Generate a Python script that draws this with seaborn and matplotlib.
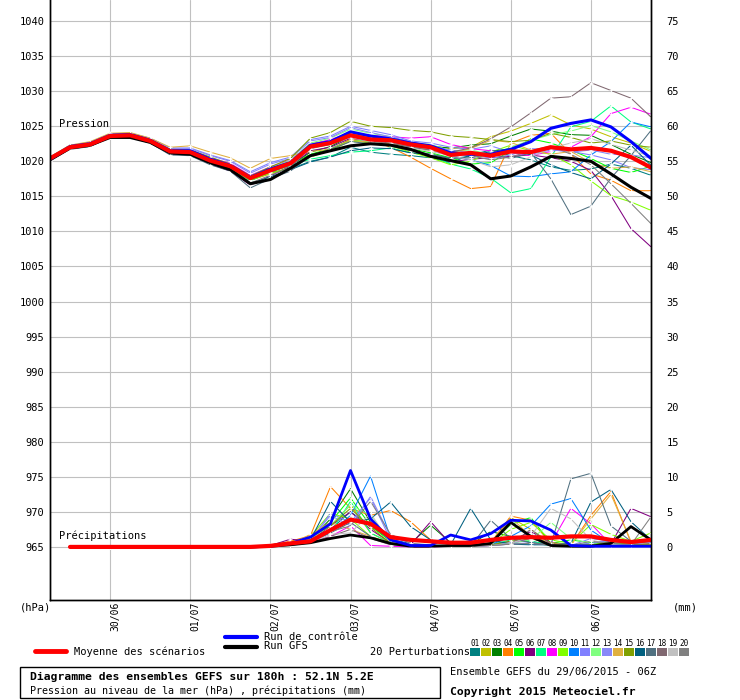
import pandas as pd
import seaborn as sns
import matplotlib.pyplot as plt
from matplotlib.transforms import ScaledTranslation
from matplotlib.patches import Rectangle
from matplotlib.lines import Line2D

# echeances (h depuis 29/06 06Z)
hours = [0, 6, 12, 18, 24, 30, 36, 42, 48, 54, 60, 66, 72, 78, 84, 90, 96, 102,
         108, 114, 120, 126, 132, 138, 144, 150, 156, 162, 168, 174, 180]
rain_hours = hours[1:]
date_hours = [18, 42, 66, 90, 114, 138, 162]
date_labels = ['30/06', '01/07', '02/07', '03/07', '04/07', '05/07', '06/07']

# pression (hPa)
mean_pres = [1020.4, 1022.0, 1022.4, 1023.6, 1023.7, 1022.9, 1021.4, 1021.3, 1020.1, 1019.3, 1017.6,
             1018.7, 1019.7, 1022.1, 1022.6, 1023.7, 1023.1, 1023.0, 1022.4, 1022.0, 1020.9,
             1021.2, 1020.8, 1021.4, 1021.3, 1022.0, 1021.7, 1021.9, 1021.5, 1020.6, 1019.1]
ctrl_pres = [1020.3, 1022.1, 1022.5, 1023.7, 1023.8, 1023.0, 1021.5, 1021.5, 1020.3, 1019.4, 1017.7,
             1018.9, 1019.8, 1022.3, 1022.8, 1024.2, 1023.6, 1023.2, 1022.6, 1022.2, 1021.2,
             1021.0, 1021.0, 1021.7, 1022.8, 1024.7, 1025.4, 1025.9, 1024.9, 1022.8, 1020.4]
gfs_pres = [1020.2, 1021.9, 1022.3, 1023.4, 1023.4, 1022.7, 1021.2, 1021.0, 1019.8, 1018.8, 1016.8,
            1017.4, 1019.0, 1020.8, 1021.5, 1022.2, 1022.5, 1022.3, 1021.7, 1020.7, 1020.1,
            1019.5, 1017.5, 1017.9, 1019.2, 1020.7, 1020.4, 1020.0, 1018.2, 1016.3, 1014.7]

p01 = [1020.2, 1021.8, 1022.1, 1023.5, 1023.6, 1022.8, 1021.2, 1021.0, 1019.9, 1019.0, 1017.3, 1018.4, 1018.9, 1020.0, 1020.6, 1022.0,
       1021.3, 1021.0, 1020.8, 1020.5, 1019.8, 1020.9, 1021.6, 1020.8, 1020.2, 1019.2, 1018.7, 1018.9, 1019.6, 1019.0, 1018.0]
p02 = [1020.4, 1022.1, 1022.5, 1023.7, 1023.8, 1023.0, 1021.6, 1021.5, 1020.4, 1019.6, 1017.9, 1019.0, 1020.0, 1022.5, 1023.0, 1024.0,
       1023.4, 1023.2, 1022.5, 1022.2, 1021.8, 1022.0, 1023.5, 1024.3, 1025.4, 1026.6, 1025.2, 1024.6, 1023.5, 1022.6, 1021.4]
p03 = [1020.3, 1022.0, 1022.3, 1023.6, 1023.7, 1022.9, 1021.3, 1021.2, 1020.0, 1019.1, 1017.4, 1018.5, 1019.4, 1021.3, 1022.1, 1023.6,
       1023.3, 1022.9, 1022.7, 1022.1, 1021.9, 1022.3, 1022.5, 1023.6, 1024.6, 1024.3, 1023.8, 1023.7, 1022.4, 1021.0, 1019.8]
p04 = [1020.3, 1021.9, 1022.3, 1023.6, 1023.6, 1022.7, 1021.2, 1021.1, 1019.9, 1019.1, 1017.3, 1018.2, 1019.2, 1020.6, 1021.6, 1023.2,
       1023.0, 1022.0, 1020.6, 1019.0, 1017.5, 1016.1, 1016.4, 1022.6, 1023.7, 1024.0, 1021.0, 1018.2, 1017.3, 1015.8, 1015.8]
p05 = [1020.5, 1022.2, 1022.5, 1023.8, 1023.8, 1023.0, 1021.4, 1021.3, 1020.1, 1019.2, 1017.5, 1018.6, 1019.5, 1021.0, 1021.8, 1023.0,
       1022.8, 1022.4, 1021.8, 1021.2, 1020.5, 1019.6, 1019.8, 1021.5, 1023.2, 1022.6, 1021.6, 1020.4, 1019.0, 1018.4, 1019.3]
p06 = [1020.1, 1021.8, 1022.2, 1023.4, 1023.5, 1022.6, 1021.0, 1020.9, 1019.6, 1018.6, 1016.6, 1017.9, 1019.3, 1021.5, 1022.0, 1023.3,
       1022.9, 1022.4, 1021.6, 1020.8, 1019.9, 1020.3, 1020.5, 1020.7, 1020.9, 1020.5, 1020.0, 1018.7, 1015.1, 1010.4, 1007.8]
p07 = [1020.6, 1022.3, 1022.3, 1023.5, 1023.7, 1022.9, 1021.4, 1021.2, 1020.0, 1019.1, 1017.2, 1018.5, 1019.4, 1020.3, 1020.8, 1021.3,
       1021.5, 1021.9, 1021.2, 1020.8, 1019.6, 1018.9, 1017.6, 1015.5, 1016.1, 1020.6, 1024.9, 1025.7, 1027.9, 1025.6, 1024.6]
p08 = [1020.4, 1022.1, 1022.6, 1023.8, 1023.9, 1023.1, 1021.6, 1021.6, 1020.5, 1019.7, 1018.0, 1019.2, 1020.2, 1022.4, 1023.1, 1024.1,
       1023.7, 1023.5, 1023.3, 1023.5, 1022.4, 1021.8, 1021.5, 1021.2, 1020.8, 1021.4, 1022.0, 1023.5, 1026.8, 1027.7, 1026.7]
p09 = [1020.3, 1022.0, 1022.4, 1023.6, 1023.7, 1022.8, 1021.3, 1021.1, 1019.9, 1019.0, 1017.3, 1018.3, 1019.0, 1020.7, 1021.5, 1022.9,
       1022.6, 1022.2, 1021.3, 1020.5, 1019.5, 1020.0, 1021.3, 1022.3, 1021.5, 1021.0, 1019.5, 1017.2, 1015.1, 1014.2, 1013.0]
p10 = [1020.4, 1022.0, 1022.4, 1023.7, 1023.8, 1022.9, 1021.5, 1021.4, 1020.2, 1019.3, 1017.7, 1018.8, 1019.8, 1022.2, 1022.7, 1023.9,
       1023.2, 1022.8, 1022.0, 1021.6, 1020.8, 1020.2, 1019.4, 1017.9, 1017.8, 1018.2, 1018.5, 1020.9, 1022.8, 1025.6, 1024.9]
p11 = [1020.6, 1022.3, 1022.7, 1023.9, 1024.0, 1023.3, 1021.9, 1021.9, 1020.9, 1020.1, 1018.5, 1019.8, 1020.6, 1023.1, 1023.6, 1025.0,
       1024.4, 1023.8, 1022.9, 1022.6, 1022.0, 1021.7, 1022.2, 1021.3, 1021.0, 1021.6, 1021.4, 1020.9, 1020.2, 1019.1, 1018.8]
p12 = [1020.5, 1022.2, 1022.6, 1023.8, 1023.8, 1023.0, 1021.5, 1021.4, 1020.3, 1019.5, 1017.9, 1019.1, 1020.1, 1022.6, 1023.3, 1024.6,
       1024.0, 1023.5, 1022.6, 1022.4, 1021.5, 1021.6, 1021.0, 1022.0, 1023.0, 1023.8, 1024.3, 1025.1, 1024.2, 1022.9, 1021.6]
p13 = [1020.5, 1022.2, 1022.7, 1023.9, 1024.0, 1023.2, 1021.8, 1021.8, 1020.8, 1020.0, 1018.3, 1019.6, 1020.4, 1022.9, 1023.4, 1024.8,
       1024.1, 1023.5, 1022.8, 1022.2, 1021.6, 1021.2, 1020.4, 1020.9, 1021.8, 1021.7, 1021.3, 1021.6, 1021.0, 1020.9, 1020.5]
p14 = [1020.6, 1022.3, 1022.8, 1024.0, 1024.1, 1023.3, 1022.0, 1022.2, 1021.3, 1020.5, 1019.0, 1020.4, 1020.8, 1021.4, 1021.7, 1023.0,
       1022.7, 1022.5, 1022.2, 1021.5, 1021.2, 1021.8, 1023.0, 1022.7, 1021.6, 1021.0, 1021.4, 1019.8, 1019.0, 1019.2, 1018.5]
p15 = [1020.5, 1022.2, 1022.5, 1023.8, 1023.9, 1023.1, 1021.7, 1021.6, 1020.6, 1019.6, 1017.9, 1019.2, 1020.4, 1023.3, 1024.1, 1025.7,
       1025.0, 1024.8, 1024.4, 1024.2, 1023.6, 1023.4, 1023.1, 1022.8, 1023.0, 1024.0, 1023.4, 1022.6, 1022.9, 1022.3, 1022.0]
p16 = [1020.2, 1021.8, 1022.2, 1023.5, 1023.5, 1022.7, 1021.1, 1020.9, 1019.7, 1018.8, 1016.8, 1017.8, 1018.8, 1019.9, 1020.6, 1021.5,
       1021.9, 1021.8, 1021.2, 1021.0, 1020.4, 1020.7, 1021.4, 1021.8, 1020.9, 1019.5, 1018.4, 1017.5, 1019.6, 1022.3, 1019.4]
p17 = [1020.1, 1021.7, 1022.1, 1023.4, 1023.4, 1022.6, 1020.9, 1020.8, 1019.5, 1018.6, 1016.2, 1017.5, 1018.6, 1020.8, 1021.7, 1022.8,
       1022.5, 1022.2, 1021.5, 1021.0, 1020.4, 1020.5, 1021.0, 1020.4, 1021.2, 1017.5, 1012.4, 1013.6, 1017.6, 1020.8, 1024.4]
p18 = [1020.3, 1022.0, 1022.4, 1023.6, 1023.6, 1022.8, 1021.3, 1021.2, 1020.0, 1019.1, 1017.4, 1018.5, 1019.5, 1021.8, 1022.4, 1023.5,
       1022.9, 1022.6, 1022.0, 1021.6, 1021.3, 1021.9, 1023.2, 1024.9, 1026.9, 1029.0, 1029.2, 1031.2, 1030.1, 1029.0, 1026.3]
p19 = [1020.4, 1022.1, 1022.4, 1023.7, 1023.7, 1022.9, 1021.4, 1021.3, 1020.1, 1019.3, 1017.6, 1018.7, 1019.8, 1022.0, 1022.5, 1023.4,
       1022.8, 1022.3, 1021.9, 1021.4, 1020.8, 1020.2, 1019.2, 1019.5, 1020.6, 1021.9, 1022.6, 1023.2, 1022.4, 1021.6, 1020.7]
p20 = [1020.2, 1021.9, 1022.3, 1023.5, 1023.6, 1022.8, 1021.2, 1021.1, 1019.8, 1018.9, 1016.9, 1018.0, 1019.2, 1021.9, 1022.5, 1023.8,
       1023.2, 1022.9, 1022.1, 1021.8, 1021.1, 1020.8, 1020.2, 1020.6, 1021.5, 1022.2, 1021.0, 1019.5, 1016.8, 1014.0, 1011.1]
pert_pres = [p01, p02, p03, p04, p05, p06, p07, p08, p09, p10,
             p11, p12, p13, p14, p15, p16, p17, p18, p19, p20]

# precipitations (mm / 6h), de 6h a 180h
mean_rain = [0, 0, 0, 0, 0, 0, 0, 0, 0, 0, 0.15, 0.5, 0.8, 2.4, 3.9, 3.3, 1.4, 1.0, 0.8, 0.6,
             0.6, 1.0, 1.3, 1.4, 1.3, 1.5, 1.5, 1.0, 0.7, 1.0]
ctrl_rain = [0, 0, 0, 0, 0, 0, 0, 0, 0, 0, 0.1, 0.5, 1.4, 3.3, 10.9, 4.0, 1.0, 0.2, 0.2, 1.7,
             1.0, 1.9, 3.8, 3.7, 2.4, 0.2, 0.1, 0.1, 0.1, 0.1]
gfs_rain = [0, 0, 0, 0, 0, 0, 0, 0, 0, 0, 0.1, 0.3, 0.6, 1.2, 1.7, 1.3, 0.5, 0.1, 0.1, 0.2,
            0.2, 0.5, 3.5, 1.5, 0.2, 0.1, 0.1, 0.5, 2.9, 1.0]

r01 = [0, 0, 0, 0, 0, 0, 0, 0, 0, 0, 0.2, 0.5, 1.0, 2.5, 5.0, 3.0, 1.0, 0.4, 0.2, 0.1, 0.3, 0.5, 1.5, 0.8, 0.3, 0.2, 0.5, 1.0, 0.5, 0.3]
r02 = [0, 0, 0, 0, 0, 0, 0, 0, 0, 0, 0.1, 0.4, 1.2, 3.0, 6.0, 2.0, 0.6, 0.2, 0.1, 0.1, 0.2, 0.3, 4.2, 2.5, 0.5, 0.2, 0.1, 0.3, 0.5, 0.4]
r03 = [0, 0, 0, 0, 0, 0, 0, 0, 0, 0, 0.2, 0.6, 1.0, 4.0, 8.3, 3.5, 1.0, 0.5, 3.1, 0.6, 0.3, 2.2, 1.5, 0.6, 0.2, 0.1, 0.3, 0.8, 0.5, 1.2]
r04 = [0, 0, 0, 0, 0, 0, 0, 0, 0, 0, 0.3, 0.8, 1.6, 8.6, 5.5, 4.5, 5.2, 3.6, 1.0, 0.3, 0.2, 0.6, 4.4, 3.8, 0.5, 0.2, 4.5, 7.9, 0.6, 0.4]
r05 = [0, 0, 0, 0, 0, 0, 0, 0, 0, 0, 0.1, 0.5, 1.3, 3.5, 7.0, 3.0, 0.8, 0.3, 0.2, 0.2, 0.1, 0.5, 3.2, 4.2, 0.5, 1.0, 0.6, 0.3, 0.2, 1.0]
r06 = [0, 0, 0, 0, 0, 0, 0, 0, 0, 0, 0.2, 1.1, 0.8, 3.0, 5.0, 2.5, 0.6, 0.3, 3.6, 0.4, 0.2, 0.4, 0.8, 2.2, 0.6, 0.3, 0.2, 0.4, 5.5, 4.3]
r07 = [0, 0, 0, 0, 0, 0, 0, 0, 0, 0, 0.1, 0.4, 0.9, 2.0, 6.5, 2.0, 0.5, 0.2, 0.1, 0.1, 0.1, 0.3, 1.0, 0.8, 0.3, 0.2, 0.2, 0.5, 0.3, 0.2]
r08 = [0, 0, 0, 0, 0, 0, 0, 0, 0, 0, 0.1, 0.3, 0.6, 1.5, 3.0, 0.2, 0.1, 0.0, 0.0, 0.1, 0.1, 0.2, 0.5, 1.2, 0.5, 5.5, 3.3, 0.3, 0.1, 0.1]
r09 = [0, 0, 0, 0, 0, 0, 0, 0, 0, 0, 0.1, 0.4, 1.5, 4.8, 4.0, 1.5, 0.5, 0.2, 0.1, 0.2, 0.2, 0.4, 2.5, 3.5, 1.0, 0.5, 3.2, 1.8, 0.8, 2.0]
r10 = [0, 0, 0, 0, 0, 0, 0, 0, 0, 0, 0.1, 0.3, 0.7, 2.0, 4.5, 10.1, 1.2, 0.3, 0.1, 0.1, 0.2, 0.3, 1.5, 3.0, 6.1, 6.9, 2.4, 0.5, 0.2, 0.1]
r11 = [0, 0, 0, 0, 0, 0, 0, 0, 0, 0, 0.2, 0.4, 0.9, 4.8, 3.5, 7.0, 1.0, 0.3, 0.1, 0.1, 0.1, 0.2, 0.4, 0.6, 0.3, 0.2, 1.2, 0.8, 0.3, 0.2]
r12 = [0, 0, 0, 0, 0, 0, 0, 0, 0, 0, 0.1, 0.5, 1.2, 3.0, 6.0, 4.5, 0.7, 0.4, 0.2, 0.1, 0.2, 0.3, 0.5, 1.0, 3.5, 1.2, 0.5, 0.3, 0.2, 0.1]
r13 = [0, 0, 0, 0, 0, 0, 0, 0, 0, 0, 0.2, 0.6, 1.0, 4.5, 3.0, 7.2, 1.5, 0.5, 0.2, 0.2, 0.2, 0.3, 0.6, 0.4, 0.3, 0.2, 0.5, 1.0, 0.4, 0.6]
r14 = [0, 0, 0, 0, 0, 0, 0, 0, 0, 0, 0.1, 0.3, 1.8, 3.5, 2.5, 1.5, 0.6, 0.3, 0.1, 0.1, 0.2, 0.5, 4.2, 1.5, 0.6, 0.3, 4.0, 7.5, 0.8, 0.4]
r15 = [0, 0, 0, 0, 0, 0, 0, 0, 0, 0, 0.1, 0.4, 1.4, 3.0, 5.5, 2.8, 0.5, 0.2, 0.1, 0.1, 0.1, 0.3, 0.8, 1.2, 0.4, 0.2, 0.3, 0.6, 0.4, 0.3]
r16 = [0, 0, 0, 0, 0, 0, 0, 0, 0, 0, 0.2, 0.5, 1.0, 6.5, 3.5, 4.0, 6.4, 2.9, 1.0, 0.3, 5.5, 1.0, 0.4, 0.3, 0.3, 0.5, 6.4, 8.2, 3.6, 1.0]
r17 = [0, 0, 0, 0, 0, 0, 0, 0, 0, 0, 0.1, 0.4, 0.8, 2.0, 3.5, 1.5, 0.4, 0.2, 0.1, 0.1, 0.1, 3.8, 1.2, 0.6, 0.3, 9.7, 10.5, 3.0, 0.8, 0.5]
r18 = [0, 0, 0, 0, 0, 0, 0, 0, 0, 0, 0.1, 0.3, 0.6, 1.5, 2.5, 1.2, 0.3, 0.1, 0.1, 0.1, 0.1, 0.2, 0.4, 2.5, 0.4, 0.2, 0.1, 0.2, 0.3, 0.2]
r19 = [0, 0, 0, 0, 0, 0, 0, 0, 0, 0, 0.1, 0.2, 0.6, 1.8, 2.0, 4.8, 0.5, 0.2, 0.1, 0.1, 0.1, 0.2, 0.5, 1.5, 5.5, 4.0, 1.0, 0.3, 0.2, 0.1]
r20 = [0, 0, 0, 0, 0, 0, 0, 0, 0, 0, 0.1, 0.4, 0.9, 2.2, 3.0, 6.5, 1.8, 0.5, 0.3, 0.1, 0.1, 0.2, 0.4, 0.5, 0.3, 0.2, 0.8, 0.5, 0.3, 4.3]
pert_rain = [r01, r02, r03, r04, r05, r06, r07, r08, r09, r10,
             r11, r12, r13, r14, r15, r16, r17, r18, r19, r20]

pert_names = ['%02d' % i for i in range(1, 21)]
pert_colors = ['#008080', '#c0c000', '#008000', '#ff8000', '#00ff00', '#800080', '#00ff80',
               '#ff00ff', '#80ff00', '#0080ff', '#8080ff', '#80ff80', '#8888f8', '#e0b040',
               '#80a000', '#006080', '#507080', '#806870', '#c0c0c0', '#808080']

W, H = 740, 700


def fx(x):
    return x / W


def fy(y):
    return 1 - y / H


sns.set_style('white')
plt.rcParams['font.family'] = ['DejaVu Sans Mono']
plt.rcParams['text.color'] = 'black'
plt.rcParams['xtick.color'] = 'black'
plt.rcParams['ytick.color'] = 'black'

fig = plt.figure(figsize=(7.4, 7.0), dpi=100)
ax = fig.add_axes([fx(50), fy(600), fx(651) - fx(50), 1 - fy(600)])
ax2 = ax.twinx()

ylo, yhi = 957.43, 1043.0
ax.set_xlim(0, 180)
ax.set_ylim(ylo, yhi)
ax2.set_ylim(ylo - 965, yhi - 965)

grid = '#c0c0c0'
ax.set_yticks(range(965, 1041, 5))
ax.set_xticks(date_hours)
ax.set_xticklabels(date_labels, rotation=90, fontsize=7, va='top')
ax.tick_params(axis='y', length=0, pad=4, labelsize=7.5, labelcolor='black')
ax.tick_params(axis='x', length=0, pad=1, labelcolor='black')
ax2.set_yticks(range(0, 76, 5))
ax2.tick_params(axis='y', length=0, pad=11, labelsize=7.5, labelcolor='black')
for lab in ax.get_xticklabels():
    lab.set_transform(lab.get_transform() + ScaledTranslation(5 / 100, 0, fig.dpi_scale_trans))
ax.grid(True, color=grid, lw=0.8)
ax.set_axisbelow(True)
for a in (ax, ax2):
    a.spines['top'].set_visible(False)
    for s in ('left', 'right', 'bottom'):
        a.spines[s].set_color('black')
        a.spines[s].set_linewidth(1.0)

# perturbations
rows = []
for name, vals in zip(pert_names, pert_pres):
    for h, v in zip(hours, vals):
        rows.append({'h': h, 'v': v, 'm': name})
df_p = pd.DataFrame(rows)
rows = []
for name, vals in zip(pert_names, pert_rain):
    for h, v in zip(rain_hours, vals):
        rows.append({'h': h, 'v': v, 'm': name})
df_r = pd.DataFrame(rows)
pal = dict(zip(pert_names, pert_colors))

sns.lineplot(data=df_p, x='h', y='v', hue='m', palette=pal, estimator=None, legend=False,
             lw=0.75, marker='+', markersize=3, markeredgewidth=0.6, ax=ax)
sns.lineplot(data=df_r, x='h', y='v', hue='m', palette=pal, estimator=None, legend=False,
             lw=0.75, marker='+', markersize=3, markeredgewidth=0.6, ax=ax2)

# run GFS, controle, moyenne
sns.lineplot(x=hours, y=gfs_pres, color='black', lw=2.2, ax=ax)
sns.lineplot(x=hours, y=ctrl_pres, color='#0000ff', lw=2.2, ax=ax)
sns.lineplot(x=hours, y=mean_pres, color='#ff0000', lw=3.0, ax=ax)
sns.lineplot(x=rain_hours, y=gfs_rain, color='black', lw=2.0, ax=ax2)
sns.lineplot(x=rain_hours, y=ctrl_rain, color='#0000ff', lw=2.0, ax=ax2)
sns.lineplot(x=rain_hours, y=mean_rain, color='#ff0000', lw=3.0, ax=ax2)
ax.set_xlabel('')
ax.set_ylabel('')
ax2.set_ylabel('')
ax.set_xlim(0, 180)

ax.text(2.7, 1025.3, 'Pression', fontsize=7.5, va='center')
ax.text(2.7, 966.6, 'Précipitations', fontsize=7.5, va='center')

# textes et legende sous le graphique
fig.text(fx(20), fy(607), '(hPa)', fontsize=7.5, va='center')
fig.text(fx(673), fy(607), '(mm)', fontsize=7.5, va='center')

fig.add_artist(Line2D([fx(35), fx(66)], [fy(651), fy(651)], color='#ff0000', lw=3.5))
fig.text(fx(74), fy(652), 'Moyenne des scénarios', fontsize=7.5, va='center')
fig.add_artist(Line2D([fx(225), fx(257)], [fy(636.5), fy(636.5)], color='#0000ff', lw=3))
fig.text(fx(264), fy(637), 'Run de contrôle', fontsize=7.5, va='center')
fig.add_artist(Line2D([fx(225), fx(257)], [fy(646.5), fy(646.5)], color='black', lw=3))
fig.text(fx(264), fy(646), 'Run GFS', fontsize=7.5, va='center')
fig.text(fx(370), fy(652), '20 Perturbations', fontsize=7.5, va='center')
for i, (name, col) in enumerate(zip(pert_names, pert_colors)):
    x0 = 470 + i * 11
    fig.add_artist(Rectangle((fx(x0), fy(656)), 10 / W, 8 / H, color=col, lw=0))
    fig.text(fx(x0 + 5), fy(643), name, fontsize=5.5, ha='center', va='center')

fig.add_artist(Rectangle((fx(20), fy(698)), 420 / W, 31 / H, fill=False, ec='black', lw=1))
fig.text(fx(30), fy(677), 'Diagramme des ensembles GEFS sur 180h : 52.1N 5.2E',
         fontsize=8.2, fontweight='bold', va='center')
fig.text(fx(30), fy(691), 'Pression au niveau de la mer (hPa) , précipitations (mm)',
         fontsize=7.2, va='center')
fig.text(fx(450), fy(672), 'Ensemble GEFS du 29/06/2015 - 06Z', fontsize=7.5, va='center')
fig.text(fx(450), fy(692), 'Copyright 2015 Meteociel.fr', fontsize=8.2, fontweight='bold', va='center')

fig.savefig('out.png', dpi=100, facecolor='white')
